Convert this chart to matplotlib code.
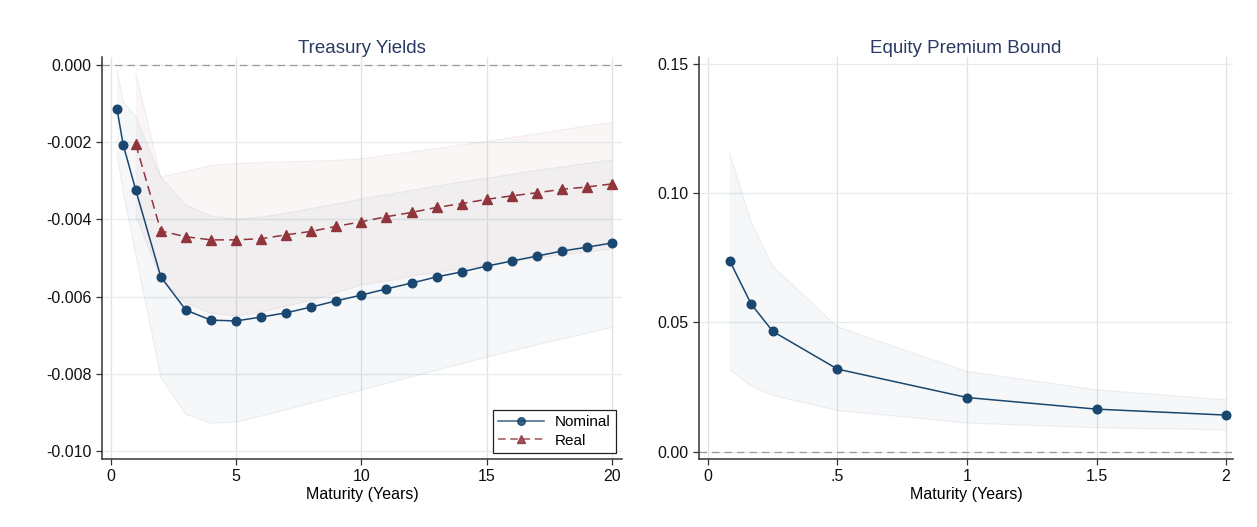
import numpy as np
import matplotlib
matplotlib.use("Agg")
import matplotlib.pyplot as plt
from matplotlib.lines import Line2D

plt.rcParams["font.family"] = ["Liberation Sans", "DejaVu Sans"]
plt.rcParams["axes.unicode_minus"] = False

# ---- Treasury yields: impulse responses by maturity (years) ----
nom_mat = [0.25, 0.5, 1, 2, 3, 4, 5, 6, 7, 8, 9, 10, 11, 12, 13, 14, 15, 16, 17, 18, 19, 20]
nom_est = [-0.00114, -0.00207, -0.00324, -0.00549, -0.00635, -0.00661, -0.00663, -0.00653,
           -0.00642, -0.00627, -0.00611, -0.00596, -0.00580, -0.00565, -0.00549, -0.00536,
           -0.00521, -0.00508, -0.00495, -0.00482, -0.00472, -0.00461]
nom_hi = [-0.00010, -0.00095, -0.00134, -0.00290, -0.00363, -0.00391, -0.00399, -0.00394,
          -0.00384, -0.00372, -0.00360, -0.00347, -0.00336, -0.00325, -0.00314, -0.00303,
          -0.00293, -0.00283, -0.00273, -0.00264, -0.00255, -0.00246]
nom_lo = [-0.00230, -0.00330, -0.00490, -0.00810, -0.00905, -0.00928, -0.00925, -0.00910,
          -0.00893, -0.00876, -0.00859, -0.00842, -0.00825, -0.00808, -0.00791, -0.00774,
          -0.00757, -0.00741, -0.00725, -0.00710, -0.00695, -0.00680]

real_mat = [1, 2, 3, 4, 5, 6, 7, 8, 9, 10, 11, 12, 13, 14, 15, 16, 17, 18, 19, 20]
real_est = [-0.00205, -0.00430, -0.00445, -0.00453, -0.00453, -0.00450, -0.00440, -0.00431,
            -0.00418, -0.00406, -0.00393, -0.00382, -0.00369, -0.00359, -0.00348, -0.00339,
            -0.00331, -0.00322, -0.00316, -0.00308]
real_hi = [-0.00020, -0.00290, -0.00276, -0.00260, -0.00255, -0.00253, -0.00251, -0.00249,
           -0.00247, -0.00243, -0.00234, -0.00225, -0.00216, -0.00207, -0.00198, -0.00188,
           -0.00178, -0.00168, -0.00158, -0.00149]
real_lo = [-0.00390, -0.00555, -0.00617, -0.00643, -0.00650, -0.00640, -0.00625, -0.00610,
           -0.00590, -0.00570, -0.00560, -0.00547, -0.00537, -0.00527, -0.00518, -0.00509,
           -0.00500, -0.00492, -0.00484, -0.00477]

# ---- Equity premium bound by horizon (years) ----
eq_mat = [1 / 12, 2 / 12, 0.25, 0.5, 1, 1.5, 2]
eq_est = [0.0739, 0.0571, 0.0465, 0.0319, 0.0209, 0.0164, 0.0141]
eq_hi = [0.1156, 0.0889, 0.0717, 0.0482, 0.0310, 0.0239, 0.0200]
eq_lo = [0.0318, 0.0253, 0.0217, 0.0159, 0.0110, 0.0092, 0.0084]

left_yticks = [0.0, -0.002, -0.004, -0.006, -0.008, -0.010]
left_ylabels = ["0.000", "-0.002", "-0.004", "-0.006", "-0.008", "-0.010"]
left_xticks = [0, 5, 10, 15, 20]
left_xlabels = ["0", "5", "10", "15", "20"]
right_yticks = [0.0, 0.05, 0.10, 0.15]
right_ylabels = ["0.00", "0.05", "0.10", "0.15"]
right_xticks = [0, 0.5, 1, 1.5, 2]
right_xlabels = ["0", ".5", "1", "1.5", "2"]

NAVY = "#1a476f"
MAROON = "#90353b"
TITLE_C = "#2a3a62"
HGRID = "#e3ecee"
VGRID = "#e2e2e2"
SPINE = "#333333"

W, H = 1257, 527
fig = plt.figure(figsize=(W / 100, H / 100), dpi=100)
ax1 = fig.add_axes([102 / W, 1 - 459 / H, 520 / W, 402 / H])
ax2 = fig.add_axes([699 / W, 1 - 459 / H, 534 / W, 402 / H])


def style(ax, xt, xl, yt, yl):
    ax.set_xticks(xt)
    ax.set_xticklabels(xl)
    ax.set_yticks(yt)
    ax.set_yticklabels(yl)
    for s in ("top", "right"):
        ax.spines[s].set_visible(False)
    for s in ("left", "bottom"):
        ax.spines[s].set_color(SPINE)
        ax.spines[s].set_linewidth(1.1)
    ax.tick_params(direction="out", length=4.5, width=0.9, color=SPINE,
                   labelsize=11.5, labelcolor="#111111", pad=3)
    for v in xt:
        ax.axvline(v, color=VGRID, lw=0.9, zorder=0)
    for v in yt:
        ax.axhline(v, color=HGRID, lw=0.9, zorder=0)
    ax.axhline(0, color="#9a9a9a", lw=0.9, ls=(0, (6, 4)), zorder=1)
    ax.set_xlabel("Maturity (Years)", fontsize=11.5, labelpad=2)


def band(ax, x, lo, hi, color):
    ax.fill_between(x, lo, hi, facecolor=color, alpha=0.045, lw=0, zorder=1)
    ax.plot(x, hi, color=color, alpha=0.07, lw=0.8, zorder=1)
    ax.plot(x, lo, color=color, alpha=0.07, lw=0.8, zorder=1)


# Left panel
style(ax1, left_xticks, left_xlabels, left_yticks, left_ylabels)
band(ax1, nom_mat, nom_lo, nom_hi, NAVY)
band(ax1, real_mat, real_lo, real_hi, MAROON)
ax1.plot(nom_mat, nom_est, color=NAVY, lw=1.1, marker="o", ms=6.2, zorder=3)
ax1.plot(real_mat, real_est, color=MAROON, lw=1.1, ls=(0, (6, 3.5)), marker="^",
         ms=6.8, zorder=3)
ax1.set_xlim(-0.347, 20.395)
ax1.set_ylim(-0.010207, 0.000207)
ax1.set_title("Treasury Yields", fontsize=13.5, color=TITLE_C, pad=3)

handles = [
    Line2D([], [], color=NAVY, lw=1.1, marker="o", ms=5.5, alpha=0.85),
    Line2D([], [], color=MAROON, lw=1.1, ls=(0, (5, 3)), marker="^", ms=6, alpha=0.85),
]
leg = ax1.legend(handles, ["Nominal", "Real"], loc="lower right",
                 bbox_to_anchor=(0.988, 0.015), borderaxespad=0, fontsize=11,
                 frameon=True, fancybox=False, edgecolor="#222222", framealpha=1,
                 handlelength=3.0, handletextpad=0.7, borderpad=0.35, labelspacing=0.3)
leg.get_frame().set_linewidth(0.9)
leg.set_zorder(5)

# Right panel
style(ax2, right_xticks, right_xlabels, right_yticks, right_ylabels)
band(ax2, eq_mat, eq_lo, eq_hi, NAVY)
ax2.plot(eq_mat, eq_est, color=NAVY, lw=1.1, marker="o", ms=6.2, zorder=3)
ax2.set_xlim(-0.0347, 2.027)
ax2.set_ylim(-0.0029, 0.1527)
ax2.set_title("Equity Premium Bound", fontsize=13.5, color=TITLE_C, pad=3)

fig.savefig("out.png", dpi=100)
